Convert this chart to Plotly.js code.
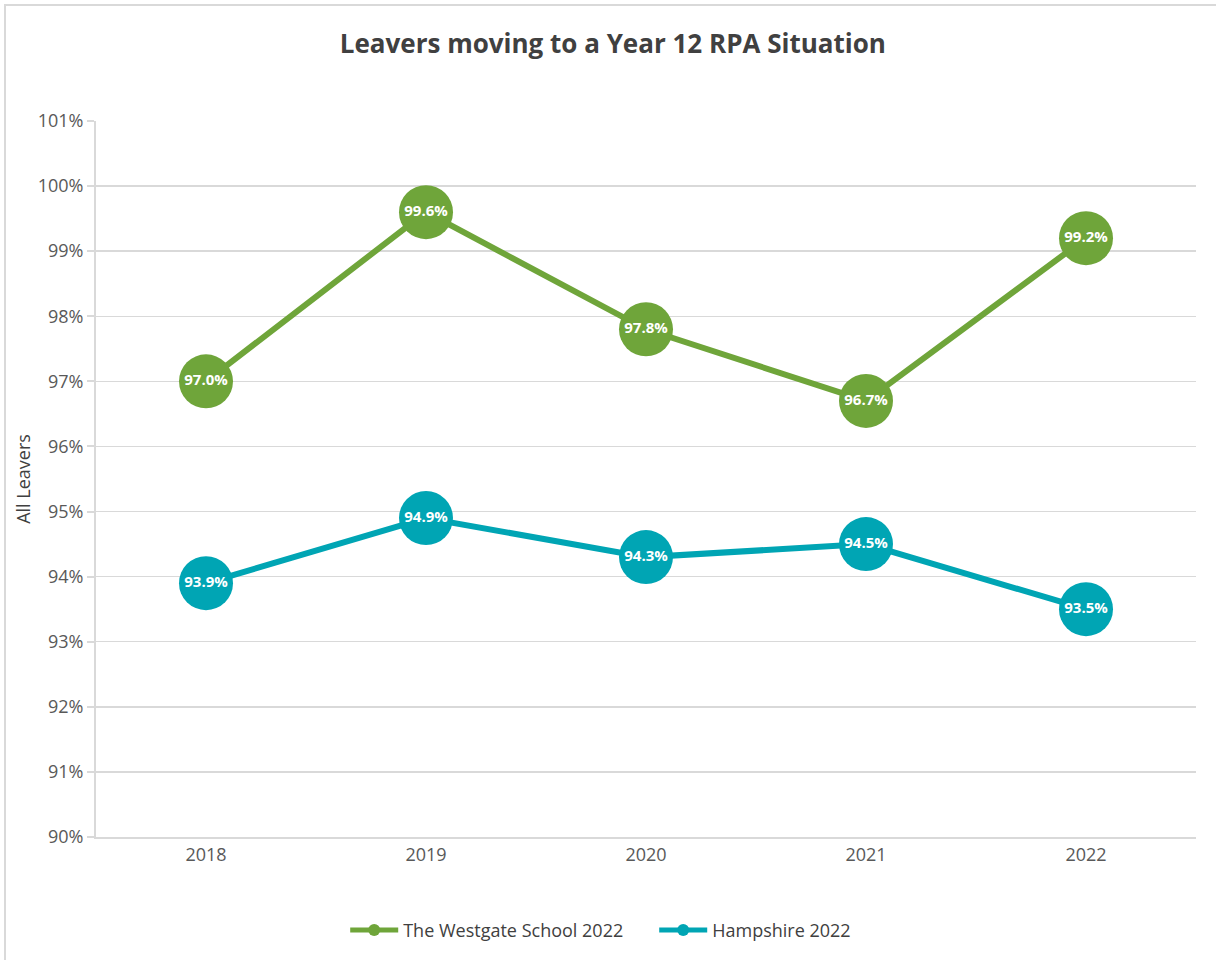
<!DOCTYPE html>
<html>
<head>
<meta charset="utf-8">
<script src="https://cdn.plot.ly/plotly-3.0.1.min.js"></script>
<style>
  html, body { margin: 0; padding: 0; background: #fff; overflow: hidden; }
  #chart { width: 1216px; height: 960px; }
  #frame { position: absolute; left: 4px; top: 4px; width: 1230px; height: 980px; border: 2px solid #d9d9d9; pointer-events: none; box-sizing: border-box; }
</style>
</head>
<body>
<div id="chart"></div>
<div id="frame"></div>
<script>
const years = ['2018', '2019', '2020', '2021', '2022'];
const westgate = [97.0, 99.6, 97.8, 96.7, 99.2];
const hampshire = [93.9, 94.9, 94.3, 94.5, 93.5];
const seriesNames = ['The Westgate School 2022', 'Hampshire 2022'];
const colors = ['#6fa53a', '#00a5b4'];

function makeTrace(y, name, color) {
  return {
    x: years, y: y, name: name, type: 'scatter', mode: 'lines+markers+text',
    line: { color: color, width: 6 },
    marker: { color: color, size: 54 },
    text: y.map(v => v.toFixed(1) + '%'),
    textposition: 'middle center',
    textfont: { family: 'Open Sans, sans-serif', size: 15, color: '#ffffff', weight: 'bold' },
    hoverinfo: 'x+y', cliponaxis: false
  };
}

const data = [
  makeTrace(westgate, seriesNames[0], colors[0]),
  makeTrace(hampshire, seriesNames[1], colors[1])
];

const layout = {
  width: 1216, height: 960,
  margin: { l: 96, r: 20, t: 121, b: 123 },
  paper_bgcolor: '#ffffff', plot_bgcolor: '#ffffff',
  font: { family: 'Open Sans, sans-serif', color: '#595959', size: 18 },
  title: {
    text: '<b>Leavers moving to a Year 12 RPA Situation</b>',
    font: { family: 'Open Sans, sans-serif', size: 26, color: '#404040' },
    x: 0.504, xanchor: 'center', y: 0.954, yanchor: 'middle'
  },
  xaxis: {
    type: 'category', range: [-0.5, 4.5],
    showgrid: false, showline: true, linecolor: '#d9d9d9', linewidth: 2,
    ticks: '', tickfont: { size: 18, color: '#595959' }, zeroline: false
  },
  yaxis: {
    range: [90, 101], dtick: 1, tick0: 90, ticksuffix: '%',
    showgrid: true, gridcolor: '#d9d9d9', gridwidth: 1.5,
    showline: true, linecolor: '#d9d9d9', linewidth: 2,
    ticks: 'outside', ticklen: 7, tickcolor: '#d9d9d9', tickwidth: 2,
    tickfont: { size: 18, color: '#595959' }, zeroline: false,
    title: { text: 'All Leavers', font: { size: 18, color: '#404040' }, standoff: 2 }
  },
  showlegend: true,
  legend: {
    orientation: 'h', xref: 'container', yref: 'container',
    x: 0.538, xanchor: 'center', y: 0.031, yanchor: 'middle',
    font: { size: 18, color: '#404040' }, itemsizing: 'constant',
    itemwidth: 48, tracegroupgap: 0, entrywidth: 246
  }
};

Plotly.newPlot('chart', data, layout, { displayModeBar: false, staticPlot: true });
</script>
</body>
</html>
